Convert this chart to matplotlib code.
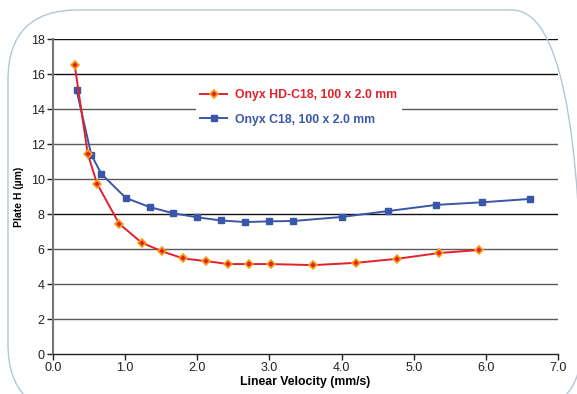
import matplotlib.pyplot as plt
from matplotlib.patches import FancyBboxPatch

plt.rcParams['font.family'] = ['Liberation Sans', 'DejaVu Sans']

# Onyx HD-C18, 100 x 2.0 mm
hd_vel = [0.30, 0.48, 0.61, 0.915, 1.226, 1.514, 1.806, 2.117, 2.43, 2.72, 3.02, 3.61, 4.20, 4.77, 5.35, 5.90]
hd_h = [16.5, 11.45, 9.73, 7.45, 6.37, 5.86, 5.46, 5.31, 5.14, 5.14, 5.14, 5.08, 5.21, 5.44, 5.77, 5.94]

# Onyx C18, 100 x 2.0 mm
c18_vel = [0.326, 0.53, 0.67, 1.008, 1.337, 1.667, 2.0, 2.33, 2.666, 3.0, 3.33, 4.0, 4.65, 5.31, 5.95, 6.61]
c18_h = [15.06, 11.38, 10.29, 8.92, 8.40, 8.04, 7.81, 7.63, 7.54, 7.58, 7.60, 7.83, 8.17, 8.52, 8.67, 8.86]

xticks = [0, 1, 2, 3, 4, 5, 6, 7]
yticks = [0, 2, 4, 6, 8, 10, 12, 14, 16, 18]

fig = plt.figure(figsize=(5.77, 3.94), dpi=100)
ax = fig.add_axes([0.092, 0.1015, 0.875, 0.7995])

# rounded panel outline
panel = FancyBboxPatch((8, -20), 574, 404, boxstyle='round,pad=0,rounding_size=70',
                       transform=None, facecolor='none', edgecolor='#b4c6d4', lw=1.0)
fig.patches.append(panel)

for y in yticks[1:]:
    ax.axhline(y, color='#111111' if y >= 16 or y == 8 else '#5a5a5a', lw=1.0, zorder=1)

ax.plot(hd_vel, hd_h, color='#e4202a', lw=1.4, marker='D', ms=4,
        mfc='#e4202a', mec='#f7a21b', mew=1.2, zorder=3,
        label='Onyx HD-C18, 100 x 2.0 mm')
ax.plot(c18_vel, c18_h, color='#3a56a8', lw=1.4, marker='s', ms=4.5,
        mfc='#3a56a8', mec='#3a56a8', zorder=2,
        label='Onyx C18, 100 x 2.0 mm')

ax.set_xlim(0, 7)
ax.set_ylim(0, 18)
ax.set_xticks(xticks)
ax.set_xticklabels(['%.1f' % v for v in xticks])
ax.set_yticks(yticks)
ax.tick_params(direction='out', length=4, width=1, labelsize=9, colors='#222222', pad=2)
for s in ['top', 'right']:
    ax.spines[s].set_visible(False)
ax.spines['left'].set_color('#777777')
ax.spines['left'].set_linewidth(1.5)
ax.spines['bottom'].set_color('#222222')
ax.spines['bottom'].set_linewidth(1.0)

ax.set_xlabel('Linear Velocity (mm/s)', fontsize=8.8, fontweight='bold', labelpad=1)
ax.set_ylabel('Plate H (µm)', fontsize=7.5, fontweight='bold', labelpad=5)

leg = ax.legend(loc='upper left', bbox_to_anchor=(0.27, 0.875), fontsize=8.8,
                frameon=True, fancybox=False, framealpha=1, edgecolor='none',
                handlelength=2.2, handletextpad=0.6, borderpad=0.4, labelspacing=1.0)
for txt, c in zip(leg.get_texts(), ['#e4202a', '#3a56a8']):
    txt.set_color(c)
    txt.set_fontweight('bold')

fig.savefig('out.png', dpi=100)
